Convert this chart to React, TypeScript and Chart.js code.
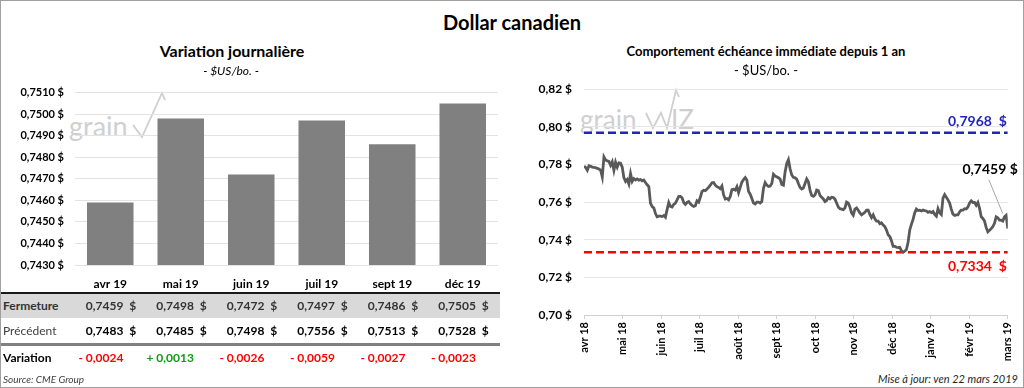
import React, { useEffect, useRef } from "react";
import { Chart, registerables } from "chart.js";

Chart.register(...registerables);

const FONT = "Lato, 'Open Sans', 'DejaVu Sans', sans-serif";

// ---- Left chart: daily variation by contract ----
const contractLabels = ["avr 19", "mai 19", "juin 19", "juil 19", "sept 19", "déc 19"];
const closeValues = [0.7459, 0.7498, 0.7472, 0.7497, 0.7486, 0.7505];
const previousValues = [0.7483, 0.7485, 0.7498, 0.7556, 0.7513, 0.7528];
const changeValues = [-0.0024, 0.0013, -0.0026, -0.0059, -0.0027, -0.0023];
const barAxisMin = 0.743;
const barAxisMax = 0.751;
const barAxisStep = 0.001;

// ---- Right chart: front month over one year ----
const monthLabels = [
  "avr 18", "mai 18", "juin 18", "juil 18", "août 18", "sept 18",
  "oct 18", "nov 18", "déc 18", "janv 19", "févr 19", "mars 19",
];
const frontMonthValues = [
  0.7791, 0.7784, 0.7769, 0.7793, 0.7790, 0.7786, 0.7784, 0.7783, 0.7779, 0.7776,
  0.7770, 0.7734, 0.7840, 0.7824, 0.7819, 0.7816, 0.7795, 0.7814, 0.7769, 0.7812,
  0.7786, 0.7809, 0.7807, 0.7786, 0.7730, 0.7710, 0.7720, 0.7696, 0.7751, 0.7710,
  0.7725, 0.7717, 0.7723, 0.7717, 0.7720, 0.7713, 0.7717, 0.7704, 0.7692, 0.7682,
  0.7595, 0.7576, 0.7569, 0.7539, 0.7522, 0.7525, 0.7525, 0.7523, 0.7529, 0.7520,
  0.7560, 0.7598, 0.7577, 0.7574, 0.7588, 0.7595, 0.7612, 0.7630, 0.7630, 0.7623,
  0.7598, 0.7588, 0.7598, 0.7603, 0.7591, 0.7583, 0.7577, 0.7581, 0.7607, 0.7600,
  0.7626, 0.7656, 0.7663, 0.7661, 0.7670, 0.7678, 0.7690, 0.7703, 0.7704, 0.7690,
  0.7682, 0.7678, 0.7671, 0.7685, 0.7638, 0.7616, 0.7619, 0.7612,
  0.7630, 0.7666, 0.7668, 0.7664, 0.7682, 0.7650, 0.7678, 0.7706, 0.7720, 0.7730,
  0.7717, 0.7657, 0.7642, 0.7619, 0.7595, 0.7590, 0.7600, 0.7600, 0.7595, 0.7603,
  0.7673, 0.7704, 0.7690, 0.7683, 0.7685, 0.7699, 0.7748, 0.7739, 0.7734, 0.7730,
  0.7722, 0.7694, 0.7690, 0.7760, 0.7805, 0.7825, 0.7777, 0.7744, 0.7732, 0.7729,
  0.7722, 0.7699, 0.7678, 0.7670, 0.7675, 0.7699, 0.7723, 0.7708, 0.7664, 0.7635,
  0.7631, 0.7638, 0.7664, 0.7661, 0.7635, 0.7626, 0.7617, 0.7603, 0.7609, 0.7624,
  0.7617, 0.7626, 0.7624, 0.7616, 0.7595, 0.7574, 0.7565, 0.7563, 0.7560, 0.7569,
  0.7600, 0.7595, 0.7574, 0.7543, 0.7530, 0.7563, 0.7569, 0.7557, 0.7543, 0.7532,
  0.7539, 0.7546, 0.7557, 0.7557,
  0.7534, 0.7517, 0.7532, 0.7511, 0.7499, 0.7499, 0.7485, 0.7490, 0.7478, 0.7470,
  0.7452, 0.7426, 0.7417, 0.7395, 0.7365, 0.7365, 0.7360, 0.7358, 0.7360, 0.7341,
  0.7334, 0.7339, 0.7348, 0.7386, 0.7452, 0.7482, 0.7508, 0.7543, 0.7563, 0.7555,
  0.7557, 0.7553, 0.7558, 0.7555, 0.7553, 0.7546, 0.7550, 0.7544, 0.7550, 0.7534,
  0.7525, 0.7565, 0.7543, 0.7534, 0.7621, 0.7640, 0.7626, 0.7612, 0.7595, 0.7563,
  0.7536, 0.7529, 0.7532, 0.7532, 0.7548, 0.7557, 0.7557, 0.7565, 0.7563, 0.7574,
  0.7595, 0.7607, 0.7598, 0.7598, 0.7583, 0.7598, 0.7567, 0.7522, 0.7513, 0.7499,
  0.7464, 0.7442, 0.7450, 0.7459, 0.7470, 0.7487, 0.7522, 0.7517, 0.7504, 0.7504,
  0.7499, 0.7522, 0.7530, 0.7459,
];
const yearHigh = 0.7968;
const yearLow = 0.7334;
const lastValue = 0.7459;
const lineAxisMin = 0.7;
const lineAxisMax = 0.82;
const lineAxisStep = 0.02;

// layout constants
const LEFT_PLOT_L = 75;
const LEFT_PLOT_R = 498;
const colCenter = (i: number) =>
  LEFT_PLOT_L + ((i + 0.5) * (LEFT_PLOT_R - LEFT_PLOT_L)) / contractLabels.length;

const fmt4 = (v: number, gap = " ") => v.toFixed(4).replace(".", ",") + gap + "$";
const fmt2 = (v: number) => v.toFixed(2).replace(".", ",") + " $";
const fmtChange = (v: number) => (v < 0 ? "- " : "+ ") + Math.abs(v).toFixed(4).replace(".", ",");

type TxtProps = {
  x: number; y: number; w?: number; align?: "left" | "center" | "right";
  size: number; bold?: boolean; italic?: boolean; color?: string; children: React.ReactNode;
};
const Txt = ({ x, y, w = 400, align = "left", size, bold = false, italic = false, color = "#000", children }: TxtProps) => {
  const lh = Math.round(size * 1.3);
  let left = x;
  if (align === "center") left = x - w / 2;
  else if (align === "right") left = x - w;
  return (
    <div
      style={{
        position: "absolute", left, top: y - lh / 2, width: w, height: lh, lineHeight: lh + "px",
        fontSize: size, fontWeight: bold ? 700 : 400, fontStyle: italic ? "italic" : "normal",
        color, textAlign: align, whiteSpace: "pre", fontFamily: FONT,
      }}
    >
      {children}
    </div>
  );
};

export default function App() {
  const barRef = useRef<HTMLCanvasElement>(null);
  const lineRef = useRef<HTMLCanvasElement>(null);

  useEffect(() => {
    const barChart = new Chart(barRef.current!, {
      type: "bar",
      data: {
        labels: contractLabels,
        datasets: [
          {
            data: closeValues,
            backgroundColor: "#808080",
            borderWidth: 0,
            barPercentage: 1,
            categoryPercentage: 0.66,
          },
        ],
      },
      options: {
        animation: false,
        responsive: false,
        maintainAspectRatio: false,
        layout: { padding: { top: 12, right: 512 - LEFT_PLOT_R, left: 0, bottom: 0 } },
        plugins: { legend: { display: false }, tooltip: { enabled: false } },
        scales: {
          x: {
            grid: { display: false, drawTicks: false },
            border: { display: false },
            ticks: { color: "#000", padding: 12, font: { family: FONT, size: 12, weight: "bold" } },
            afterFit: (s: any) => { s.height = 28; },
          },
          y: {
            min: barAxisMin,
            max: barAxisMax,
            border: { display: false },
            grid: { color: "#e3e3e3", drawTicks: false },
            ticks: {
              stepSize: barAxisStep,
              padding: 11,
              color: "#000",
              font: { family: FONT, size: 11, weight: "bold" },
              callback: (v: any) => fmt4(Number(v)),
            },
            afterFit: (s: any) => { s.width = LEFT_PLOT_L; },
          },
        },
      } as any,
    });

    const nMonths = monthLabels.length - 1;
    const lastIdx = frontMonthValues.length - 1;
    const labelsPlugin = {
      id: "refLabels",
      afterDatasetsDraw(chart: any) {
        const { ctx, chartArea, scales } = chart;
        const x = scales.x, y = scales.y;
        ctx.save();
        ctx.font = `bold 14px ${FONT}`;
        ctx.textAlign = "right";
        ctx.fillStyle = "#2424b8";
        ctx.textBaseline = "bottom";
        ctx.fillText(fmt4(yearHigh, "  "), chartArea.right - 1, y.getPixelForValue(yearHigh) - 4);
        ctx.fillStyle = "#ff0000";
        ctx.textBaseline = "top";
        ctx.fillText(fmt4(yearLow, "  "), chartArea.right - 1, y.getPixelForValue(yearLow) + 7);
        const lx = x.getPixelForValue(nMonths);
        const ly = y.getPixelForValue(lastValue);
        ctx.strokeStyle = "#a6a6a6";
        ctx.lineWidth = 1;
        ctx.beginPath();
        ctx.moveTo(lx - 5, ly - 15);
        ctx.lineTo(lx - 19, ly - 49);
        ctx.stroke();
        ctx.fillStyle = "#000";
        ctx.font = `bold 14px ${FONT}`;
        ctx.textBaseline = "middle";
        ctx.fillText(fmt4(lastValue), lx + 10, ly - 59);
        ctx.restore();
      },
    };

    const lineChart = new Chart(lineRef.current!, {
      type: "line",
      data: {
        datasets: [
          {
            data: frontMonthValues.map((v, i) => ({ x: (i * nMonths) / lastIdx, y: v })),
            borderColor: "#595959",
            borderWidth: 2.8,
            pointRadius: 0,
            tension: 0,
            order: 1,
          },
          {
            data: [{ x: 0, y: yearHigh }, { x: nMonths, y: yearHigh }],
            borderColor: "#2424b8",
            borderWidth: 2.5,
            borderDash: [8, 4],
            pointRadius: 0,
            order: 2,
          },
          {
            data: [{ x: 0, y: yearLow }, { x: nMonths, y: yearLow }],
            borderColor: "#ff0000",
            borderWidth: 2.5,
            borderDash: [8, 4],
            pointRadius: 0,
            order: 2,
          },
        ],
      },
      options: {
        animation: false,
        responsive: false,
        maintainAspectRatio: false,
        layout: { padding: { top: 17, right: 15, left: 0, bottom: 0 } },
        plugins: { legend: { display: false }, tooltip: { enabled: false } },
        scales: {
          x: {
            type: "linear",
            min: 0,
            max: nMonths,
            border: { display: true, color: "#d0d0d0" },
            grid: { display: true, drawOnChartArea: false, drawTicks: true, tickLength: 4, color: "#d0d0d0" },
            ticks: {
              stepSize: 1,
              autoSkip: false,
              minRotation: 90,
              maxRotation: 90,
              padding: 3,
              color: "#000",
              font: { family: FONT, size: 11, weight: "bold" },
              callback: (v: any) => monthLabels[Math.round(Number(v))] ?? "",
            },
            afterFit: (s: any) => { s.height = 55; },
          },
          y: {
            min: lineAxisMin,
            max: lineAxisMax,
            border: { display: false },
            grid: { color: "#e6e6e6", drawTicks: false },
            ticks: {
              stepSize: lineAxisStep,
              padding: 12,
              color: "#000",
              font: { family: FONT, size: 12, weight: "bold" },
              callback: (v: any) => fmt2(Number(v)),
            },
            afterFit: (s: any) => { s.width = 72; },
          },
        },
      } as any,
      plugins: [labelsPlugin],
    });

    return () => {
      barChart.destroy();
      lineChart.destroy();
    };
  }, []);

  const wm = "#cfcfcf";

  return (
    <div
      style={{
        position: "absolute", left: 0, top: 0, width: 1024, height: 388,
        background: "#fff", overflow: "hidden", fontFamily: FONT,
      }}
    >
      {/* watermarks */}
      <div style={{ position: "absolute", left: 69, top: 111, fontSize: 27, fontWeight: 400, color: wm, lineHeight: "30px" }}>grain</div>
      <svg style={{ position: "absolute", left: 0, top: 0 }} width={1024} height={388}>
        <polyline points="133,125 142,137 162,93 165,100" fill="none" stroke={wm} strokeWidth={1.8} />
        <polyline points="646,113 653,128 661,113 667,128 676,90 679,97" fill="none" stroke={wm} strokeWidth={1.8} />
      </svg>
      <div style={{ position: "absolute", left: 580, top: 104, fontSize: 26, fontWeight: 400, color: wm, lineHeight: "30px" }}>grain</div>
      <div style={{ position: "absolute", left: 671, top: 104, fontSize: 26, fontWeight: 400, color: wm, lineHeight: "30px" }}>IZ</div>

      <canvas ref={barRef} width={512} height={218} style={{ position: "absolute", left: 0, top: 75, width: 512, height: 218 }} />
      <canvas ref={lineRef} width={512} height={300} style={{ position: "absolute", left: 512, top: 70, width: 512, height: 300 }} />

      {/* titles */}
      <Txt x={512} y={22} w={400} align="center" size={20} bold>Dollar canadien</Txt>
      <Txt x={232} y={50} w={300} align="center" size={16} bold>Variation journalière</Txt>
      <Txt x={231} y={71} w={200} align="center" size={12} italic>- $US/bo. -</Txt>
      <Txt x={766} y={51} w={400} align="center" size={13} bold>Comportement échéance immédiate depuis 1 an</Txt>
      <Txt x={766} y={70} w={200} align="center" size={13}>- $US/bo. -</Txt>

      {/* table */}
      <div style={{ position: "absolute", left: 0, top: 292, width: 500, height: 2, background: "#1a1a1a" }} />
      <div style={{ position: "absolute", left: 0, top: 294, width: 500, height: 24, background: "#d9d9d9" }} />
      <div style={{ position: "absolute", left: 0, top: 343, width: 500, height: 3, background: "#808080" }} />

      <Txt x={3} y={306} size={12} bold color="#333">Fermeture</Txt>
      <Txt x={3} y={331} size={12} color="#404040">Précédent</Txt>
      <Txt x={3} y={358} size={12} bold color="#000">Variation</Txt>

      {closeValues.map((v, i) => (
        <Txt key={"c" + i} x={colCenter(i) + 26} y={306} w={80} align="right" size={12} bold color="#333">
          {fmt4(v, "  ")}
        </Txt>
      ))}
      {previousValues.map((v, i) => (
        <Txt key={"p" + i} x={colCenter(i) + 26} y={331} w={80} align="right" size={12} bold color="#000">
          {fmt4(v, "  ")}
        </Txt>
      ))}
      {changeValues.map((v, i) => (
        <Txt key={"v" + i} x={colCenter(i) + 26} y={358} w={80} align="right" size={12} bold color={v < 0 ? "#ff0000" : "#129a12"}>
          {fmtChange(v)}
          <span style={{ visibility: "hidden" }}>{"  $"}</span>
        </Txt>
      ))}

      <Txt x={3} y={379} size={10} italic color="#404040">Source: CME Group</Txt>
      <Txt x={1018} y={379} w={300} align="right" size={11} italic color="#262626">Mise à jour: ven 22 mars 2019</Txt>

      {/* outer border */}
      <div style={{ position: "absolute", left: 0, top: 0, width: 1024, height: 388, boxSizing: "border-box", border: "1px solid #a0a0a0", pointerEvents: "none" }} />
    </div>
  );
}
